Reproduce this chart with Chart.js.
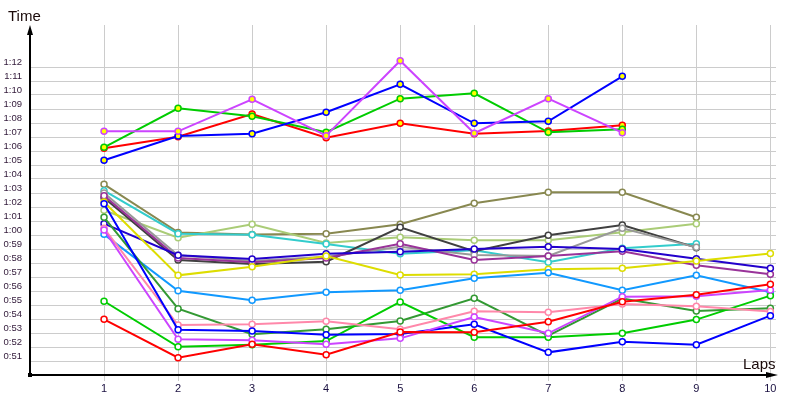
<!DOCTYPE html>
<html>
<head>
<meta charset="utf-8">
<script src="https://cdn.jsdelivr.net/npm/chart.js@4.4.0/dist/chart.umd.min.js"></script>
<style>
    body { margin: 0; background: #ffffff; }
    #wrap { width: 800px; height: 400px; }
</style>
</head>
<body>
<div id="wrap"><canvas id="lapChart" width="800" height="400"></canvas></div>
<script>
// datos: vueltas y tiempo por vuelta en segundos
const laps = [1, 2, 3, 4, 5, 6, 7, 8, 9, 10];
const yTickSeconds = [51, 52, 53, 54, 55, 56, 57, 58, 59, 60, 61, 62, 63, 64, 65, 66, 67, 68, 69, 70, 71, 72];
const yTickLabels = ['0:51', '0:52', '0:53', '0:54', '0:55', '0:56', '0:57', '0:58', '0:59', '1:00', '1:01',
    '1:02', '1:03', '1:04', '1:05', '1:06', '1:07', '1:08', '1:09', '1:10', '1:11', '1:12'];

// grupo rapido de arriba (8 vueltas)
const violetTop = [67.05, 67.05, 69.34, 66.74, 72.09, 66.91, 69.38, 66.95];
const greenTop = [65.91, 68.69, 68.12, 66.98, 69.38, 69.76, 66.98, 67.19];
const redTop = [65.84, 66.66, 68.29, 66.59, 67.62, 66.88, 67.07, 67.48];
const blueTop = [64.98, 66.71, 66.88, 68.41, 70.41, 67.62, 67.76, 70.98];

// grupo de abajo
const olive = [63.26, 59.83, 59.67, 59.74, 60.41, 61.91, 62.69, 62.69, 60.91];
const lightGreen = [61.41, 59.45, 60.41, 59.07, 59.48, 59.26, 59.26, 59.84, 60.45];
const cyan = [62.81, 59.74, 59.66, 59.0, 58.31, 58.55, 57.69, 58.69, 59.02];
const darkGray = [62.3, 57.85, 57.57, 57.74, 60.19, 58.48, 59.62, 60.36, 58.74];
const gray = [62.65, 58.2, 57.79, 58.09, 58.81, 58.21, 58.14, 60.12, 58.76];
const purple = [62.45, 58.0, 57.69, 58.0, 59.02, 57.86, 58.14, 58.48, 57.48, 56.84];
const navy = [60.45, 58.2, 57.93, 58.31, 58.45, 58.64, 58.81, 58.64, 57.95, 57.26];
const yellow = [62.0, 56.76, 57.38, 58.14, 56.79, 56.84, 57.19, 57.26, 57.79, 58.33];
const lightBlue = [59.69, 55.66, 54.98, 55.55, 55.69, 56.55, 56.95, 55.69, 56.76, 55.55];
const darkGreen = [60.91, 54.38, 52.55, 52.91, 53.5, 55.12, 52.45, 55.1, 54.21, 54.41];
const green = [54.91, 51.66, 51.81, 52.07, 54.86, 52.34, 52.34, 52.62, 53.6, 55.31];
const pink = [60.12, 53.21, 53.26, 53.48, 52.91, 54.19, 54.12, 54.71, 54.55, 54.17];
const blue = [61.88, 52.88, 52.79, 52.52, 52.57, 53.26, 51.26, 52.02, 51.81, 53.88];
const violet = [60.0, 52.19, 52.12, 51.84, 52.26, 53.79, 52.62, 55.24, 55.26, 55.71];
const red = [53.62, 50.88, 51.84, 51.09, 52.71, 52.69, 53.45, 54.88, 55.38, 56.12];

const gridShift = 0.357; // las lineas de la grilla van un poco debajo de cada etiqueta

function serie(times, color, fill) {
    return {
        data: times.map((t, i) => ({ x: laps[i], y: t })),
        borderColor: color,
        pointBorderColor: color,
        pointBackgroundColor: fill,
        borderWidth: 2,
        pointRadius: 3,
        pointBorderWidth: 1.5,
        tension: 0
    };
}

const datasets = [
    serie(violetTop, '#cc44ff', '#ffff00'),
    serie(blueTop, '#0000ff', '#ffff00'),
    serie(greenTop, '#00cc00', '#ffff00'),
    serie(redTop, '#ff0000', '#ffff00'),
    serie(red, '#ff0000', '#ffffff'),
    serie(violet, '#cc44ff', '#ffffff'),
    serie(blue, '#0000ff', '#ffffff'),
    serie(pink, '#ff88aa', '#ffffff'),
    serie(green, '#00cc00', '#ffffff'),
    serie(darkGreen, '#339933', '#ffffff'),
    serie(lightBlue, '#1199ff', '#ffffff'),
    serie(yellow, '#dddd00', '#ffffff'),
    serie(navy, '#2200cc', '#ffffff'),
    serie(purple, '#993399', '#ffffff'),
    serie(gray, '#999999', '#ffffff'),
    serie(darkGray, '#404040', '#ffffff'),
    serie(cyan, '#33cccc', '#ffffff'),
    serie(lightGreen, '#aacc77', '#ffffff'),
    serie(olive, '#888850', '#ffffff')
];

// ejes con flechas y textos
const axisArrows = {
    id: 'axisArrows',
    afterDraw(chart) {
        const ctx = chart.ctx;
        const a = chart.chartArea;
        ctx.save();
        ctx.strokeStyle = '#000000';
        ctx.fillStyle = '#000000';
        ctx.lineWidth = 2;
        ctx.beginPath();
        ctx.moveTo(a.left, a.bottom);
        ctx.lineTo(a.left, a.top + 6);
        ctx.moveTo(a.left, a.bottom);
        ctx.lineTo(a.right - 4, a.bottom);
        ctx.stroke();
        ctx.beginPath();
        ctx.moveTo(a.left, a.top);
        ctx.lineTo(a.left - 3, a.top + 10);
        ctx.lineTo(a.left + 3, a.top + 10);
        ctx.closePath();
        ctx.fill();
        ctx.beginPath();
        ctx.moveTo(a.right + 2, a.bottom);
        ctx.lineTo(a.right - 10, a.bottom - 3);
        ctx.lineTo(a.right - 10, a.bottom + 3);
        ctx.closePath();
        ctx.fill();
        ctx.fillRect(a.left - 2, a.bottom - 2, 4, 4);
        ctx.font = '15px "Liberation Sans"';
        ctx.fillStyle = '#1a0a0a';
        ctx.textBaseline = 'alphabetic';
        ctx.fillText('Time', 8, 21);
        ctx.fillText('Laps', 743, 369);
        ctx.restore();
    }
};

var ctx = document.getElementById('lapChart').getContext('2d');
var chart = new Chart(ctx, {
    type: 'line',
    data: { datasets: datasets },
    options: {
        responsive: false,
        animation: false,
        layout: { padding: { top: 25, right: 24, left: 0, bottom: 0 } },
        plugins: {
            legend: { display: false },
            tooltip: { enabled: false }
        },
        scales: {
            x: {
                type: 'linear',
                min: 0,
                max: 10.076,
                border: { display: false },
                grid: { color: '#cccccc', lineWidth: 1, tickLength: 6 },
                afterBuildTicks: function (scale) {
                    scale.ticks = laps.map(l => ({ value: l }));
                },
                afterFit: function (scale) { scale.height = 25; },
                ticks: {
                    autoSkip: false,
                    maxRotation: 0,
                    padding: 1,
                    color: '#1a1040',
                    font: { family: 'Liberation Sans', size: 11 },
                    callback: function (value) { return String(value); }
                }
            },
            y: {
                type: 'linear',
                min: 49.643,
                max: 74.643,
                border: { display: false },
                grid: { color: '#cccccc', lineWidth: 1, drawTicks: false },
                afterBuildTicks: function (scale) {
                    scale.ticks = yTickSeconds.map(s => ({ value: s - gridShift }));
                },
                afterFit: function (scale) { scale.width = 30; },
                ticks: {
                    autoSkip: false,
                    padding: 8,
                    labelOffset: -5,
                    color: '#301838',
                    font: { family: 'Liberation Sans', size: 9.5 },
                    callback: function (value, index) { return yTickLabels[index]; }
                }
            }
        }
    },
    plugins: [axisArrows]
});
</script>
</body>
</html>
